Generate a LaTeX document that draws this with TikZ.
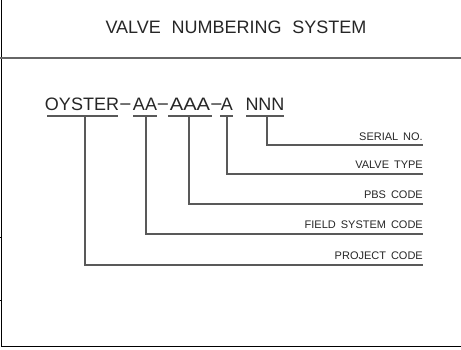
\documentclass[tikz,border=0pt]{standalone}
\usepackage{fontspec}
\usepackage{graphicx}
\setmainfont{Liberation Sans}
\newcommand{\fielddash}{\scalebox{1.15}[1]{−}}
\begin{document}
\begin{tikzpicture}[x=1pt,y=-1pt,
  frame/.style={black, line width=1pt},
  rule/.style={black!60, line width=1.3pt},
  leader/.style={black!65, line width=1.1pt},
  titletext/.style={font=\fontsize{18}{18}\selectfont, text=black!85, inner sep=0pt, anchor=base},
  codetext/.style={font=\fontsize{18}{18}\selectfont, text=black!85, inner sep=0pt, anchor=base},
  labeltext/.style={font=\fontsize{11}{11}\selectfont, text=black!85, inner sep=0pt, anchor=base east}]
\useasboundingbox (0,0) rectangle (461,349);

% sheet frame and title separator
\draw[frame] (1.5,0) -- (1.5,346) -- (461,346);
\draw[frame] (0,237) -- (1.5,237);
\draw[frame] (0,300) -- (1.5,300);
\draw[rule] (0,58) -- (461,58);

% title
\node[titletext] (title) at (236,33) {VALVE\hspace{0.6em}NUMBERING\hspace{0.6em}SYSTEM};

% number format, one node per field
\node[codetext] (oyster) at (82,110) {OYSTER};
\node[codetext] (d1) at (125.5,110) {\fielddash};
\node[codetext] (aa) at (145,110) {AA};
\node[codetext] (d2) at (163,110) {\fielddash};
\node[codetext] (aaa) at (190,110) {\scalebox{1.12}[1]{AAA}};
\node[codetext] (d3) at (216.5,110) {\fielddash};
\node[codetext] (a) at (227,110) {A};
\node[codetext] (nnn) at (265,110) {NNN};

% underlines of the fields
\draw[leader] (47,116) -- (118,116);
\draw[leader] (133,116) -- (157,116);
\draw[leader] (168,116) -- (212,116);
\draw[leader] (220,116) -- (233,116);
\draw[leader] (246,116) -- (284,116);

% field descriptions
\node[labeltext] (lserial) at (423,140) {SERIAL\hspace{0.45em}NO.};
\node[labeltext] (ltype) at (423,168) {VALVE\hspace{0.45em}TYPE};
\node[labeltext] (lpbs) at (423,198) {PBS\hspace{0.45em}CODE};
\node[labeltext] (lfield) at (423,228) {FIELD\hspace{0.45em}SYSTEM\hspace{0.45em}CODE};
\node[labeltext] (lproj) at (423,259) {PROJECT\hspace{0.45em}CODE};

% leaders from each field to its description
\coordinate (cserial) at (267,116);
\coordinate (ctype) at (227,116);
\coordinate (cpbs) at (189,116);
\coordinate (cfield) at (146,116);
\coordinate (cproj) at (85,116);
\draw[leader] (cserial) |- (423,145);
\draw[leader] (ctype) |- (423,174);
\draw[leader] (cpbs) |- (423,204);
\draw[leader] (cfield) |- (423,234);
\draw[leader] (cproj) |- (423,265);
\end{tikzpicture}
\end{document}
